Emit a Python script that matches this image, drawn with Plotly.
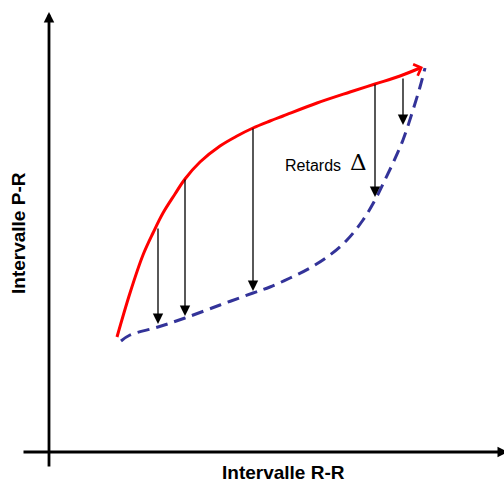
import plotly.graph_objects as go

# units: pixels measured from the axis origin (x right, y up)
red_x = [68, 81, 94, 104, 114, 126, 136, 151, 171, 188, 204, 221, 234, 268, 301, 326, 351, 371]
red_y = [115, 159, 197, 219, 239, 258, 273, 290, 306, 316, 324, 331, 336, 349, 360, 368, 376, 384]

blue_x = [72, 81, 109, 136, 171, 204, 221, 241, 261, 281, 298, 314, 326, 334, 344, 354, 364, 371, 376]
blue_y = [111, 117, 125, 134, 147, 159, 165, 174, 184, 197, 212, 232, 252, 268, 289, 312, 342, 365, 384]

# delay arrows (from red curve down to blue curve)
arrow_x = [109, 136, 204, 326, 354]
arrow_top = [225, 274, 325, 369, 375]
arrow_bottom = [128, 136, 161, 255, 327]

fig = go.Figure()

fig.add_trace(go.Scatter(x=red_x, y=red_y, mode="lines", line_shape="spline",
                         line=dict(color="#ff0000", width=3)))
fig.add_trace(go.Scatter(x=blue_x, y=blue_y, mode="lines", line_shape="spline",
                         line=dict(color="#333399", width=3, dash="12px,7px")))

# axes drawn by hand, with arrows
fig.add_annotation(x=0, y=440, ax=0, ay=-16, xref="x", yref="y", axref="x", ayref="y",
                   text="", showarrow=True, arrowhead=2, arrowsize=0.75,
                   arrowwidth=2.8, arrowcolor="black", standoff=0)
fig.add_annotation(x=459, y=0, ax=-27, ay=0, xref="x", yref="y", axref="x", ayref="y",
                   text="", showarrow=True, arrowhead=2, arrowsize=0.75,
                   arrowwidth=2.8, arrowcolor="black", standoff=0)

for xa, yt, yb in zip(arrow_x, arrow_top, arrow_bottom):
    fig.add_annotation(x=xa, y=yb, ax=xa, ay=yt, xref="x", yref="y", axref="x", ayref="y",
                       text="", showarrow=True, arrowhead=2, arrowsize=1.6,
                       arrowwidth=1.3, arrowcolor="black", standoff=0)

# small barb at the end of the red curve
fig.add_annotation(x=red_x[-1] + 3, y=red_y[-1] + 1, ax=red_x[-2], ay=red_y[-2],
                   xref="x", yref="y", axref="x", ayref="y",
                   text="", showarrow=True, arrowhead=4, arrowsize=1.2,
                   arrowwidth=2, arrowcolor="#ff0000", standoff=0)

fig.add_annotation(x=234, y=287, xref="x", yref="y", text="Retards", showarrow=False,
                   xanchor="left", yanchor="middle",
                   font=dict(family="Liberation Sans", size=16, color="black"))
fig.add_annotation(x=309, y=290, xref="x", yref="y", text="Δ", showarrow=False,
                   xanchor="center", yanchor="middle",
                   font=dict(family="DejaVu Serif", size=23, color="black"))

fig.add_annotation(x=283 / 504, y=0, xref="paper", yref="paper",
                   text="<b>Intervalle R-R</b>", showarrow=False,
                   xanchor="center", yanchor="bottom", borderpad=0,
                   font=dict(family="Liberation Sans", size=19, color="black"))
fig.add_annotation(x=18 / 504, y=1 - 233 / 484, xref="paper", yref="paper",
                   text="<b>Intervalle P-R</b>", showarrow=False, textangle=-90,
                   xanchor="center", yanchor="middle",
                   font=dict(family="Liberation Sans", size=19, color="black"))

fig.update_layout(
    width=504, height=484,
    margin=dict(l=0, r=0, t=0, b=0),
    paper_bgcolor="white", plot_bgcolor="white",
    showlegend=False,
    xaxis=dict(range=[-49, 455], visible=False, fixedrange=True),
    yaxis=dict(range=[-32, 452], visible=False, fixedrange=True),
)

fig.write_html("out.html", config={"displayModeBar": False},
               post_script="document.body.style.margin='0';")
